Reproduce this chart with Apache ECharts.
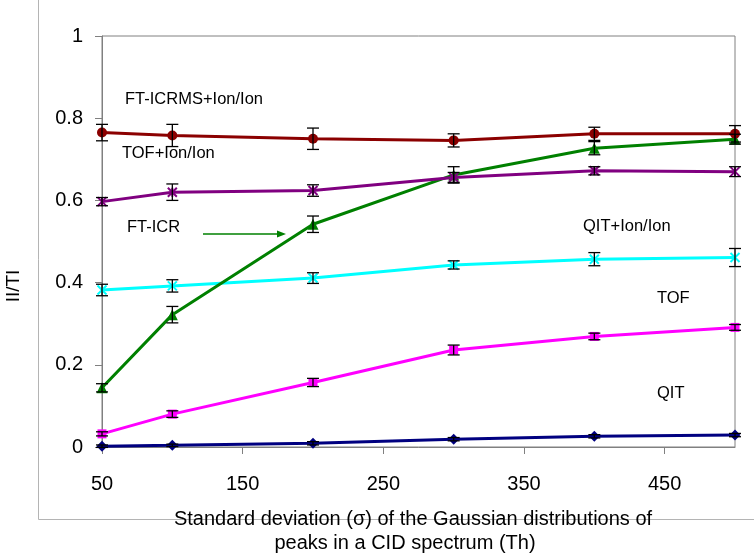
<!DOCTYPE html>
<html>
<head>
<meta charset="utf-8">
<script src="https://cdn.jsdelivr.net/npm/echarts@6/dist/echarts.min.js"></script>
<style>html,body{margin:0;padding:0;background:#fff;}#c{width:754px;height:558px;}</style>
</head>
<body>
<div id="c"></div>
<script>
// ---- data ----
const xValues = [50, 100, 200, 300, 400, 500];
const qit        = [0.002, 0.004, 0.009, 0.019, 0.026, 0.029];
const qitErr     = [0.003, 0.003, 0.004, 0.004, 0.004, 0.004];
const tof        = [0.032, 0.080, 0.157, 0.236, 0.269, 0.291];
const tofErr     = [0.005, 0.008, 0.010, 0.012, 0.008, 0.007];
const qitIon     = [0.382, 0.392, 0.411, 0.443, 0.457, 0.461];
const qitIonErr  = [0.014, 0.015, 0.013, 0.010, 0.016, 0.022];
const ftIcr      = [0.144, 0.322, 0.542, 0.662, 0.727, 0.749];
const ftIcrErr   = [0.010, 0.020, 0.020, 0.020, 0.016, 0.012];
const tofIon     = [0.597, 0.620, 0.624, 0.656, 0.672, 0.670];
const tofIonErr  = [0.010, 0.020, 0.014, 0.012, 0.010, 0.012];
const ftIcrms    = [0.765, 0.758, 0.750, 0.746, 0.762, 0.762];
const ftIcrmsErr = [0.020, 0.027, 0.026, 0.016, 0.016, 0.020];
const yTicks = [0, 0.2, 0.4, 0.6, 0.8, 1];
const xTickLabels = [50, 150, 250, 350, 450];

const FONT = '"Liberation Sans", Arial, sans-serif';
const xMarker = 'path://M0,0L10,10M10,0L0,10';
const starMarker = 'path://M0,0L10,10M10,0L0,10M5,0L5,10';

const seriesDefs = [
  {name: 'QIT', data: qit, err: qitErr, color: '#000080', symbol: 'diamond', size: 11},
  {name: 'TOF', data: tof, err: tofErr, color: '#FF00FF', symbol: 'rect', size: 9},
  {name: 'QIT+Ion/Ion', data: qitIon, err: qitIonErr, color: '#00FFFF', symbol: xMarker, size: 9, stroke: true},
  {name: 'FT-ICR', data: ftIcr, err: ftIcrErr, color: '#008000', symbol: 'triangle', size: 11},
  {name: 'TOF+Ion/Ion', data: tofIon, err: tofIonErr, color: '#800080', symbol: starMarker, size: 9, stroke: true},
  {name: 'FT-ICRMS+Ion/Ion', data: ftIcrms, err: ftIcrmsErr, color: '#8B0000', symbol: 'circle', size: 10}
];

const series = [];
seriesDefs.forEach(function (d, i) {
  series.push({
    name: d.name,
    type: 'line',
    data: xValues.map(function (x, k) { return [x, d.data[k]]; }),
    symbol: d.symbol,
    symbolSize: d.size,
    showAllSymbol: true,
    lineStyle: {color: d.color, width: 3},
    itemStyle: d.stroke ? {color: d.color, borderColor: d.color, borderWidth: 2} : {color: d.color, borderWidth: 0},
    z: 2 + i,
    animation: false
  });
  series.push({
    name: d.name + ' err',
    type: 'custom',
    data: xValues.map(function (x, k) { return [x, d.data[k] - d.err[k], d.data[k] + d.err[k]]; }),
    renderItem: function (params, api) {
      const x = api.value(0);
      const lo = api.coord([x, api.value(1)]);
      const hi = api.coord([x, api.value(2)]);
      const w = 6;
      const st = {stroke: '#000', lineWidth: 1.3};
      return {
        type: 'group',
        children: [
          {type: 'line', shape: {x1: lo[0], y1: lo[1], x2: hi[0], y2: hi[1]}, style: st},
          {type: 'line', shape: {x1: lo[0] - w, y1: lo[1], x2: lo[0] + w, y2: lo[1]}, style: st},
          {type: 'line', shape: {x1: hi[0] - w, y1: hi[1], x2: hi[0] + w, y2: hi[1]}, style: st}
        ]
      };
    },
    z: 20,
    silent: true,
    animation: false
  });
});

const chart = echarts.init(document.getElementById('c'), null, {renderer: 'canvas'});
chart.setOption({
  backgroundColor: '#fff',
  animation: false,
  grid: {left: 102, right: 19, top: 36, bottom: 111, show: true, borderColor: '#808080', borderWidth: 1, backgroundColor: 'transparent'},
  xAxis: {
    type: 'value', min: 50, max: 500, interval: 100,
    axisLine: {show: true, lineStyle: {color: '#808080', width: 1}},
    axisTick: {show: true, inside: false, length: 7, lineStyle: {color: '#808080'}},
    splitLine: {show: false},
    axisLabel: {
      show: true, showMaxLabel: false, color: '#000', fontSize: 20, fontFamily: FONT, margin: 27,
      formatter: function (v) { return xTickLabels.indexOf(v) >= 0 ? String(v) : ''; }
    }
  },
  yAxis: {
    type: 'value', min: 0, max: 1, interval: 0.2,
    axisLine: {show: true, lineStyle: {color: '#808080', width: 1}},
    axisTick: {show: true, inside: false, length: 7, lineStyle: {color: '#808080'}},
    splitLine: {show: false},
    axisLabel: {
      color: '#000', fontSize: 20, fontFamily: FONT, margin: 19,
      formatter: function (v) {
        const t = yTicks.find(function (y) { return Math.abs(y - v) < 1e-9; });
        return t === undefined ? '' : String(t);
      }
    }
  },
  series: series,
  graphic: [
    {type: 'line', shape: {x1: 38.5, y1: 0, x2: 38.5, y2: 519.5}, style: {stroke: '#b4b4b4', lineWidth: 1}, silent: true},
    {type: 'line', shape: {x1: 38.5, y1: 519.5, x2: 754, y2: 519.5}, style: {stroke: '#b4b4b4', lineWidth: 1}, silent: true},
    {type: 'text', x: 14, y: 286, rotation: Math.PI / 2, style: {text: 'II/TI', font: '19px ' + FONT, fill: '#000', align: 'center', verticalAlign: 'middle'}},
    {type: 'text', x: 413, y: 519, style: {text: 'Standard deviation (\u03c3) of the Gaussian distributions of', font: '20px ' + FONT, fill: '#000', align: 'center', verticalAlign: 'middle'}, z: 50},
    {type: 'text', x: 405, y: 543, style: {text: 'peaks in a CID spectrum (Th)', font: '20px ' + FONT, fill: '#000', align: 'center', verticalAlign: 'middle'}, z: 50},
    {type: 'text', x: 125, y: 99, style: {text: 'FT-ICRMS+Ion/Ion', font: '16.5px ' + FONT, fill: '#000', align: 'left', verticalAlign: 'middle'}, z: 50},
    {type: 'text', x: 122, y: 153, style: {text: 'TOF+Ion/Ion', font: '16.5px ' + FONT, fill: '#000', align: 'left', verticalAlign: 'middle'}, z: 50},
    {type: 'text', x: 127, y: 227, style: {text: 'FT-ICR', font: '16.5px ' + FONT, fill: '#000', align: 'left', verticalAlign: 'middle'}, z: 50},
    {type: 'text', x: 583, y: 226, style: {text: 'QIT+Ion/Ion', font: '16.5px ' + FONT, fill: '#000', align: 'left', verticalAlign: 'middle'}, z: 50},
    {type: 'text', x: 657, y: 298, style: {text: 'TOF', font: '16.5px ' + FONT, fill: '#000', align: 'left', verticalAlign: 'middle'}, z: 50},
    {type: 'text', x: 657, y: 393, style: {text: 'QIT', font: '16.5px ' + FONT, fill: '#000', align: 'left', verticalAlign: 'middle'}, z: 50},
    {type: 'line', shape: {x1: 203, y1: 234, x2: 280, y2: 234}, style: {stroke: '#008000', lineWidth: 1.5}, z: 50},
    {type: 'polygon', shape: {points: [[286, 234], [277, 230.5], [277, 237.5]]}, style: {fill: '#008000'}, z: 50}
  ]
});
</script>
</body>
</html>
